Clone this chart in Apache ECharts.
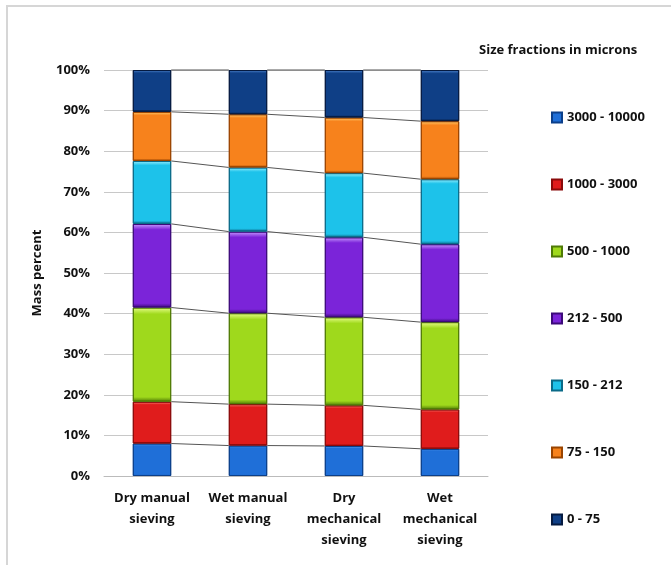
<!DOCTYPE html>
<html>
<head>
<meta charset="utf-8">
<script src="https://cdn.jsdelivr.net/npm/echarts@6/dist/echarts.min.js"></script>
<style>
  html, body { margin: 0; padding: 0; background: #fff; }
  #chart { width: 671px; height: 565px; }
</style>
</head>
<body>
<div id="chart"></div>
<script>
// categories on the x axis
const methods = ['Dry manual\nsieving', 'Wet manual\nsieving', 'Dry\nmechanical\nsieving', 'Wet\nmechanical\nsieving'];

// size fractions, bottom of the stack first
const fractions = ['3000 - 10000', '1000 - 3000', '500 - 1000', '212 - 500', '150 - 212', '75 - 150', '0 - 75'];

// mass percent of each fraction per method
const f3000_10000 = [8.0, 7.5, 7.4, 6.7];
const f1000_3000 = [10.3, 10.2, 10.0, 9.7];
const f500_1000 = [23.2, 22.4, 21.7, 21.5];
const f212_500 = [20.6, 20.1, 19.7, 19.2];
const f150_212 = [15.5, 15.8, 15.8, 16.0];
const f75_150 = [12.1, 13.1, 13.7, 14.3];
const f0_75 = [10.3, 10.9, 11.7, 12.6];

const values = [f3000_10000, f1000_3000, f500_1000, f212_500, f150_212, f75_150, f0_75];

const colors = ['#1f6fd8', '#e01c1c', '#9fd91c', '#7b24d9', '#1dc2ea', '#f7821c', '#0f3f86'];
const lights = ['#7ec0ff', '#ff8a80', '#e8ff8a', '#c99cff', '#9af0ff', '#ffd070', '#4f86d0'];
const darks = ['#0b3f8a', '#8a0a0a', '#4f7a06', '#3c0a7a', '#0a6a88', '#9a4400', '#051a40'];

const FONT = 'Open Sans';
const BAR_FRAC = 0.4;

function barGradient(i) {
  return new echarts.graphic.LinearGradient(0, 0, 0, 1, [
    { offset: 0, color: lights[i] },
    { offset: 0.07, color: colors[i] },
    { offset: 0.95, color: colors[i] },
    { offset: 1, color: darks[i] }
  ]);
}

// cumulative tops, for the series lines between bars
const cum = [];
values.forEach(function (arr, s) {
  cum.push(arr.map(function (v, c) { return (s > 0 ? cum[s - 1][c] : 0) + v; }));
});
const lineData = [];
cum.forEach(function (arr) {
  for (let c = 0; c < arr.length - 1; c++) {
    lineData.push([c, arr[c], arr[c + 1]]);
  }
});

const series = values.map(function (arr, i) {
  return {
    name: fractions[i],
    type: 'bar',
    stack: 'mass',
    barWidth: (BAR_FRAC * 100) + '%',
    data: arr,
    itemStyle: {
      color: barGradient(i),
      borderColor: darks[i],
      borderWidth: 1
    }
  };
});

series.push({
  type: 'custom',
  name: 'lines',
  silent: true,
  data: lineData,
  z: 1,
  renderItem: function (params, api) {
    const c = api.value(0);
    const p1 = api.coord([c, api.value(1)]);
    const p2 = api.coord([c + 1, api.value(2)]);
    const half = api.size([1, 0])[0] * BAR_FRAC / 2;
    return {
      type: 'line',
      shape: { x1: p1[0] + half, y1: p1[1], x2: p2[0] - half, y2: p2[1] },
      style: { stroke: '#555', lineWidth: 1 }
    };
  }
});

const chart = echarts.init(document.getElementById('chart'));
chart.setOption({
  textStyle: { fontFamily: FONT, fontWeight: 'bold', color: '#111' },
  graphic: [{
    type: 'polyline',
    shape: { points: [[7, 565], [7, 6], [671, 6]] },
    style: { stroke: '#d6d6d6', lineWidth: 2, fill: null }
  }, {
    type: 'text',
    left: 479,
    top: 44,
    style: { text: 'Size fractions in microns', font: 'bold 13px "Open Sans"', fill: '#111' }
  }],
  grid: { left: 104, right: 183, top: 70, bottom: 89 },
  legend: {
    data: fractions,
    orient: 'vertical',
    left: 546,
    top: 106,
    itemWidth: 10,
    itemHeight: 10,
    itemGap: 54,
    icon: 'rect',
    textStyle: { fontFamily: FONT, fontWeight: 'bold', fontSize: 13, color: '#111' }
  },
  xAxis: {
    type: 'category',
    data: methods,
    axisTick: { show: false },
    axisLine: { lineStyle: { color: '#bbb' } },
    axisLabel: { interval: 0, fontSize: 13, fontWeight: 'bold', color: '#111', lineHeight: 21, margin: 12 }
  },
  yAxis: {
    type: 'value',
    min: 0,
    max: 100,
    interval: 10,
    name: 'Mass percent',
    nameLocation: 'middle',
    nameRotate: 90,
    nameGap: 60,
    nameTextStyle: { fontSize: 13, fontWeight: 'bold', color: '#111' },
    axisLabel: { formatter: '{value}%', fontSize: 13, fontWeight: 'bold', color: '#111', margin: 14 },
    axisLine: { show: false },
    splitLine: { lineStyle: { color: '#c8c8c8' } }
  },
  series: series
});
</script>
</body>
</html>
